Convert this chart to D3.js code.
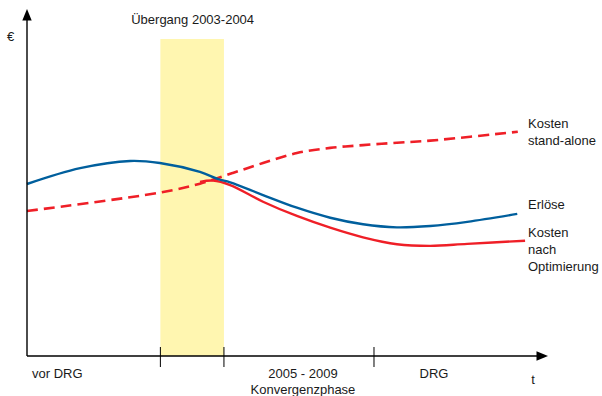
<!DOCTYPE html>
<html>
<head>
<meta charset="utf-8">
<script src="https://cdn.jsdelivr.net/npm/d3@7"></script>
<style>
  html, body { margin: 0; padding: 0; background: #fff; }
  svg { display: block; }
  text { font-family: "Liberation Sans", Arial, Helvetica, sans-serif; fill: #1a1a1a; }
</style>
</head>
<body>
<svg id="chart" width="602" height="396"></svg>
<script>
// ---- data (abstract time units 0..100, value units 0..100) ----
const erloeseT  = [0, 10.2, 19.8, 25.5, 33.2, 36.7, 39, 45.3, 51.8, 58.2, 64.5, 71, 77.4, 84.5, 94.1];
const erloeseV  = [50, 54.6, 56.7, 56.1, 53.5, 51.4, 50.5, 46.8, 43.1, 40.2, 38.3, 37.4, 37.8, 39, 41.3];

const optT      = [33.2, 35.7, 39, 45.3, 51.8, 58.2, 64.5, 71, 77.4, 84.5, 95.6];
const optV      = [50.6, 51, 49.7, 44.85, 40.7, 37.3, 34.5, 32.5, 32.0, 32.6, 33.5];

const standT    = [0, 25.5, 33.2, 39.5, 45.3, 51.8, 58.2, 64.5, 71, 77.4, 94.2];
const standV    = [42.15, 47.5, 50.1, 53.2, 56.1, 59.0, 60.5, 61.3, 62.0, 62.6, 65.2];

const phaseTicks = [25.6, 37.8, 66.6];              // boundaries of phases
const transition = [25.6, 37.8];                     // Übergang 2003-2004
const phaseLabels = ["vor DRG", "2005 - 2009", "DRG"];
const phaseSub    = ["", "Konvergenzphase", ""];
const seriesLabels = [["Kosten", "stand-alone"], ["Erlöse"], ["Kosten", "nach", "Optimierung"]];
const titleText = "Übergang 2003-2004";

// ---- layout ----
const svg = d3.select("#chart");
const x = d3.scaleLinear().domain([0, 100]).range([27, 548]);
const y = d3.scaleLinear().domain([0, 100]).range([356, 12]);

const BLUE = "#005f9d", RED = "#ef1f27", YELLOW = "#fff6b0";

// transition band
svg.append("rect")
  .attr("x", x(transition[0]))
  .attr("y", 39)
  .attr("width", x(transition[1]) - x(transition[0]))
  .attr("height", y(0) - 39)
  .attr("fill", YELLOW);

svg.append("text").attr("x", (x(transition[0]) + x(transition[1])) / 2 + 0.5).attr("y", 24)
  .attr("text-anchor", "middle").attr("font-size", 13).text(titleText);

// lines
const line = d3.line().x(d => x(d[0])).y(d => y(d[1])).curve(d3.curveCatmullRom.alpha(0.5));
const zip = (a, b) => a.map((v, i) => [v, b[i]]);

svg.append("path").datum(zip(standT, standV)).attr("d", line)
  .attr("fill", "none").attr("stroke", RED).attr("stroke-width", 2.6)
  .attr("stroke-dasharray", "11,6");

svg.append("path").datum(zip(optT, optV)).attr("d", line)
  .attr("fill", "none").attr("stroke", RED).attr("stroke-width", 2.4);

svg.append("path").datum(zip(erloeseT, erloeseV)).attr("d", line)
  .attr("fill", "none").attr("stroke", BLUE).attr("stroke-width", 2.4);

// axes
const ax = svg.append("g").attr("stroke", "#000");
ax.append("line").attr("x1", x(0)).attr("y1", y(0)).attr("x2", x(0)).attr("y2", 19)
  .attr("stroke-width", 1.4);
ax.append("line").attr("x1", x(0)).attr("y1", y(0)).attr("x2", 538).attr("y2", y(0))
  .attr("stroke-width", 1.4);
svg.append("path").attr("d", `M${x(0)},9 L${x(0) - 4.7},20.5 L${x(0) + 4.7},20.5 Z`).attr("fill", "#000");
svg.append("path").attr("d", `M548,${y(0)} L536.5,${y(0) - 4.7} L536.5,${y(0) + 4.7} Z`).attr("fill", "#000");

ax.selectAll("line.tick").data(phaseTicks).enter().append("line")
  .attr("x1", d => x(d)).attr("x2", d => x(d))
  .attr("y1", y(0) - 9).attr("y2", y(0) + 11).attr("stroke-width", 1);

// axis labels
svg.append("text").attr("x", 7).attr("y", 41).attr("font-size", 13).text("€");
svg.append("text").attr("x", 533).attr("y", 384).attr("text-anchor", "middle").attr("font-size", 13).text("t");

svg.append("text").attr("x", 32).attr("y", 378).attr("font-size", 13).text(phaseLabels[0]);
svg.append("text").attr("x", (x(phaseTicks[1]) + x(phaseTicks[2])) / 2 + 4).attr("y", 378)
  .attr("text-anchor", "middle").attr("font-size", 13).text(phaseLabels[1]);
svg.append("text").attr("x", (x(phaseTicks[1]) + x(phaseTicks[2])) / 2 + 4).attr("y", 394)
  .attr("text-anchor", "middle").attr("font-size", 13).text(phaseSub[1]);
svg.append("text").attr("x", 434).attr("y", 378)
  .attr("text-anchor", "middle").attr("font-size", 13).text(phaseLabels[2]);

// series labels
const labelY = [128, 209, 237];
seriesLabels.forEach((lines, i) => {
  lines.forEach((t, j) => {
    svg.append("text").attr("x", 528).attr("y", labelY[i] + j * 17)
      .attr("font-size", 13).text(t);
  });
});
</script>
</body>
</html>
